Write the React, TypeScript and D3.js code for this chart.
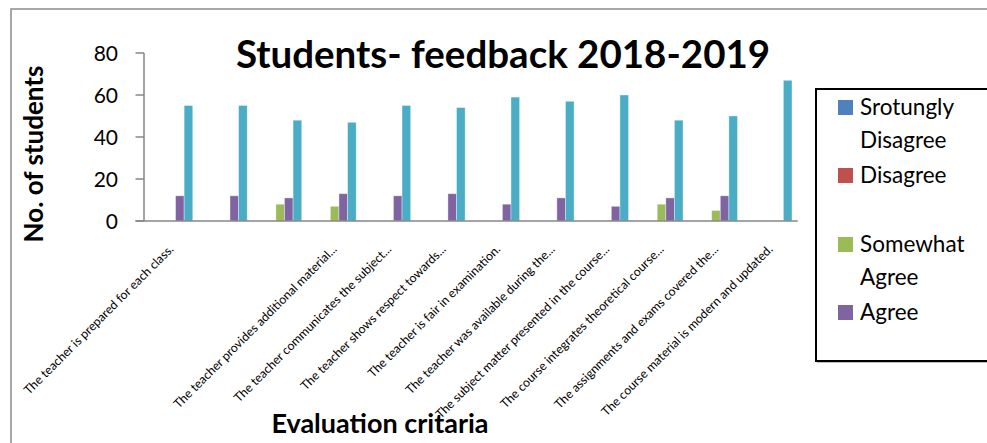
import * as d3 from "d3";

const categories = [
  "The teacher is prepared for each class.",
  "",
  "",
  "The teacher provides additional material...",
  "The teacher communicates the subject...",
  "The teacher shows respect towards...",
  "The teacher is fair in examination.",
  "The teacher was available during the...",
  "The subject matter presented in the course...",
  "The course integrates theoretical course...",
  "The assignments and exams covered the...",
  "The course material is modern and updated.",
];

const stronglyDisagree = [0, 0, 0, 0, 0, 0, 0, 0, 0, 0, 0, 0];
const disagree = [0, 0, 0, 0, 0, 0, 0, 0, 0, 0, 0, 0];
const somewhatAgree = [0, 0, 8, 7, 0, 0, 0, 0, 0, 8, 5, 0];
const agree = [12, 12, 11, 13, 12, 13, 8, 11, 7, 11, 12, 0];
const stronglyAgree = [55, 55, 48, 47, 55, 54, 59, 57, 60, 48, 50, 67];

const yTicks = [0, 20, 40, 60, 80];

const series = [
  { key: "Srotungly Disagree", lines: ["Srotungly", "Disagree"], color: "#4F81BD", values: stronglyDisagree },
  { key: "Disagree", lines: ["Disagree"], color: "#C0504D", values: disagree },
  { key: "Somewhat Agree", lines: ["Somewhat", "Agree"], color: "#9BBB59", values: somewhatAgree },
  { key: "Agree", lines: ["Agree"], color: "#8064A2", values: agree },
  { key: "Strongly Agree", lines: ["Strongly", "Agree"], color: "#4BACC6", values: stronglyAgree },
];

const W = 987;
const H = 443;
const plot = { left: 144, right: 797.7, top: 53, bottom: 221 };
const font = "Lato, 'Open Sans', sans-serif";

export default function App() {
  const x0 = d3
    .scaleBand<number>()
    .domain(categories.map((_, i) => i))
    .range([plot.left, plot.right])
    .paddingInner(0.21)
    .paddingOuter(0.105);
  const x1 = d3
    .scaleBand<string>()
    .domain(series.map((s) => s.key))
    .range([0, x0.bandwidth()]);
  const y = d3.scaleLinear().domain([0, 80]).range([plot.bottom, plot.top]);

  const legendRows = [
    { key: series[0].key, y: 100 },
    { key: series[1].key, y: 168 },
    { key: series[2].key, y: 237 },
    { key: series[3].key, y: 305 },
  ];

  return (
    <svg
      width={W}
      height={H}
      style={{ position: "absolute", left: 0, top: 0, background: "#fff" }}
      fontFamily={font}
    >
      <rect x={0} y={0} width={W} height={H} fill="#fff" />
      {/* outer chart border */}
      <path d={`M11,${H} L11,9 L${W},9`} fill="none" stroke="#8a8a8a" strokeWidth={1.5} />

      {/* bars */}
      {series.map((s) => (
        <g key={s.key} fill={s.color}>
          {s.values.map((v, i) =>
            v > 0 ? (
              <rect
                key={i}
                x={(x0(i) ?? 0) + (x1(s.key) ?? 0)}
                y={y(v)}
                width={x1.bandwidth()}
                height={y(0) - y(v)}
                stroke="#ffffff"
                strokeOpacity={0.45}
                strokeWidth={0.8}
              />
            ) : null
          )}
        </g>
      ))}

      {/* y axis */}
      <g>
        <line x1={plot.left} x2={plot.left} y1={plot.top} y2={plot.bottom} stroke="#868686" strokeWidth={1.5} />
        {yTicks.map((t) => (
          <g key={t}>
            <line x1={135.5} x2={plot.left} y1={y(t)} y2={y(t)} stroke="#868686" strokeWidth={1.5} />
            <text x={118} y={y(t)} dy="0.36em" textAnchor="end" fontSize={21} fill="#000">
              {t}
            </text>
          </g>
        ))}
      </g>

      {/* x axis */}
      <line x1={135.5} x2={plot.right} y1={plot.bottom} y2={plot.bottom} stroke="#868686" strokeWidth={1.5} />
      {categories.map((c, i) => {
        const cx = (x0(i) ?? 0) + x0.bandwidth() / 2 + 3;
        return (
          <text
            key={i}
            transform={`translate(${cx},250) rotate(-45)`}
            textAnchor="end"
            fontSize={12.3}
            fill="#000"
          >
            {c}
          </text>
        );
      })}

      {/* titles */}
      <text x={503} y={68} textAnchor="middle" fontSize={38.5} fontWeight={700} fill="#000">
        Students- feedback 2018-2019
      </text>
      <text
        transform="translate(43,154) rotate(-90)"
        textAnchor="middle"
        fontSize={26}
        fontWeight={700}
        fill="#000"
      >
        No. of students
      </text>
      <text x={380} y={433} textAnchor="middle" fontSize={27} fontWeight={700} fill="#000">
        Evaluation critaria
      </text>

      {/* legend */}
      <rect x={817} y={90} width={200} height={273} fill="#bdbdbd" />
      <rect x={816} y={89} width={200} height={272} fill="#fff" stroke="#000" strokeWidth={2} />
      {legendRows.map((r) => {
        const s = series.find((d) => d.key === r.key)!;
        return (
          <g key={r.key}>
            <rect x={838} y={r.y} width={15} height={15} fill={s.color} />
            {s.lines.map((ln, j) => (
              <text key={j} x={860} y={r.y + 15 + j * 33} fontSize={22.5} fill="#000">
                {ln}
              </text>
            ))}
          </g>
        );
      })}
    </svg>
  );
}
